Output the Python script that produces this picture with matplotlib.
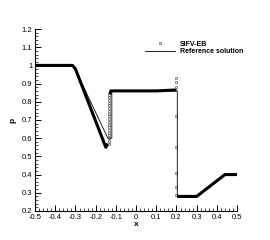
import matplotlib.pyplot as plt
from matplotlib.ticker import MultipleLocator, FuncFormatter
from matplotlib.lines import Line2D

plt.rcParams['font.family'] = ['Liberation Sans', 'DejaVu Sans']

# reference solution breakpoints
x_ref = [-0.5, -0.31, -0.14, -0.12, -0.12, 0.204, 0.204, 0.30, 0.44, 0.5]
p_ref = [1.0, 1.0, 0.60, 0.60, 0.86, 0.86, 0.275, 0.275, 0.40, 0.40]

# SIFV-EB: dense parts (markers overlap into a thick band)
x_left = [-0.5, -0.315, -0.30, -0.15, -0.14]
p_left = [1.0, 1.0, 0.98, 0.55, 0.57]
x_mid = [-0.13, -0.125, -0.10, 0.0, 0.1, 0.2]
p_mid = [0.84, 0.86, 0.86, 0.86, 0.86, 0.865]
x_right = [0.205, 0.30, 0.44, 0.5]
p_right = [0.28, 0.28, 0.40, 0.40]

# SIFV-EB: resolved points inside the discontinuities
p_col = [0.57, 0.585, 0.60, 0.615, 0.63, 0.645, 0.66, 0.675, 0.69, 0.705,
         0.72, 0.735, 0.75, 0.765, 0.78, 0.795, 0.81, 0.825, 0.84]
x_col = [-0.132] * len(p_col)
p_shock = [0.93, 0.91, 0.88, 0.72, 0.55, 0.41, 0.33, 0.29]
x_shock = [0.2] * len(p_shock)

fig = plt.figure(figsize=(2.7, 2.4), dpi=100)
ax = fig.add_axes([0.13, 0.121, 0.748, 0.758])

ms = dict(marker='s', ms=1.4, mfc='none', mec='0.35', mew=0.5, ls='none')
for xs, ps in [(x_left, p_left), (x_mid, p_mid), (x_right, p_right)]:
    ax.plot(xs, ps, color='black', lw=2.2, solid_capstyle='butt')
ax.plot(x_col, p_col, **ms)
ax.plot(x_shock, p_shock, **ms)
ax.plot(x_ref, p_ref, color='black', lw=0.6)

ax.set_xlim(-0.5, 0.5)
ax.set_ylim(0.2, 1.2)
for s in ['top', 'right']:
    ax.spines[s].set_visible(False)
for s in ['left', 'bottom']:
    ax.spines[s].set_linewidth(0.8)

fmt = FuncFormatter(lambda v, pos: f"{round(v, 6):g}")
ax.xaxis.set_major_locator(MultipleLocator(0.1))
ax.xaxis.set_minor_locator(MultipleLocator(0.02))
ax.yaxis.set_major_locator(MultipleLocator(0.1))
ax.yaxis.set_minor_locator(MultipleLocator(0.02))
ax.xaxis.set_major_formatter(fmt)
ax.yaxis.set_major_formatter(fmt)
ax.tick_params(which='major', direction='in', length=4, width=0.7, labelsize=5.5, pad=2)
ax.tick_params(which='minor', direction='in', length=2, width=0.5)

ax.set_xlabel('x', fontsize=6, fontweight='bold', labelpad=0)
ax.set_ylabel('p', fontsize=6, fontweight='bold', labelpad=4)

handles = [Line2D([], [], **ms),
           Line2D([], [], color='black', lw=0.6)]
ax.legend(handles, ['SIFV-EB', 'Reference solution'], loc='upper right',
          bbox_to_anchor=(1.06, 0.97), frameon=False, handlelength=4.3,
          handletextpad=0.7, prop={'size': 5, 'weight': 'bold'},
          labelspacing=0.1)

fig.savefig('out.png', dpi=100)
